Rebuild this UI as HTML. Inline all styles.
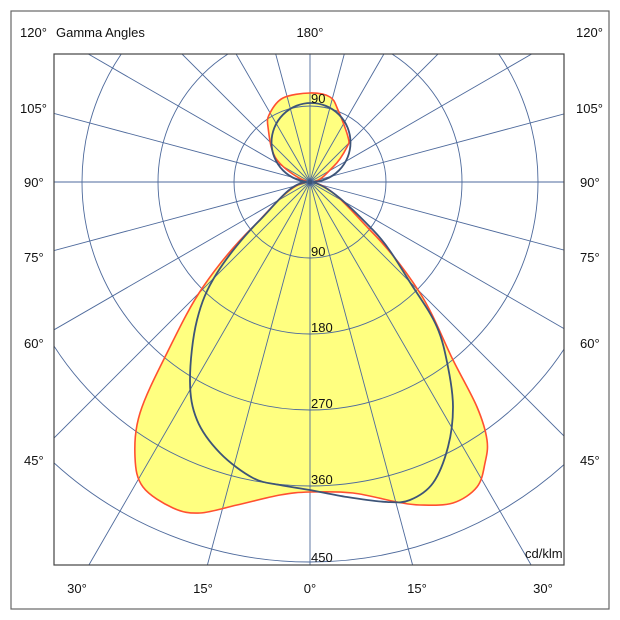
<!DOCTYPE html>
<html><head><meta charset="utf-8"><style>
html,body{margin:0;padding:0;background:#fff;width:620px;height:620px;overflow:hidden;}
svg{display:block;font-family:"Liberation Sans",Arial,sans-serif;}
</style></head><body>
<svg id="s" width="620" height="620" viewBox="0 0 620 620" xmlns="http://www.w3.org/2000/svg">
<rect x="11" y="11" width="598" height="598" fill="#fff" stroke="#666" stroke-width="1.2"/>
<defs><clipPath id="c"><rect x="54" y="54" width="510" height="511"/></clipPath></defs>
<g id="curves" clip-path="url(#c)"></g>
<g id="grid2" clip-path="url(#c)" fill="none" stroke="#4e6a9c" stroke-width="0.9"></g>
<rect x="54" y="54" width="510" height="511" fill="none" stroke="#444" stroke-width="1.2"/>
<g font-size="13" fill="#111">
<text x="20" y="37">120°</text>
<text x="56" y="37">Gamma Angles</text>
<text x="310" y="37" text-anchor="middle">180°</text>
<text x="576" y="37">120°</text>
<text x="20" y="113">105°</text><text x="576" y="113">105°</text>
<text x="24" y="187">90°</text><text x="580" y="187">90°</text>
<text x="24" y="262">75°</text><text x="580" y="262">75°</text>
<text x="24" y="348">60°</text><text x="580" y="348">60°</text>
<text x="24" y="465">45°</text><text x="580" y="465">45°</text>
<text x="77" y="593" text-anchor="middle">30°</text>
<text x="203" y="593" text-anchor="middle">15°</text>
<text x="310" y="593" text-anchor="middle">0°</text>
<text x="417" y="593" text-anchor="middle">15°</text>
<text x="543" y="593" text-anchor="middle">30°</text>
<text x="525" y="558">cd/klm</text>
<text x="311" y="103">90</text>
<text x="311" y="256">90</text>
<text x="311" y="332">180</text>
<text x="311" y="408">270</text>
<text x="311" y="484">360</text>
<text x="311" y="562">450</text>
</g>
</svg>
<script>
var NS="http://www.w3.org/2000/svg",cx=310,cy=182;
function el(p,t,a){var e=document.createElementNS(NS,t);for(var k in a)e.setAttribute(k,a[k]);p.appendChild(e);return e;}
function path(pts){var d="M"+pts[0][0]+","+pts[0][1];var n=pts.length;
for(var i=0;i<n-1;i++){var p0=pts[(i-1+n-1)%(n-1)],p1=pts[i],p2=pts[i+1],p3=pts[(i+2)%(n-1)];
if(i==0)p0=pts[n-2];
d+=" C"+(p1[0]+(p2[0]-p0[0])/6)+","+(p1[1]+(p2[1]-p0[1])/6)+" "+(p2[0]-(p3[0]-p1[0])/6)+","+(p2[1]-(p3[1]-p1[1])/6)+" "+p2[0]+","+p2[1];}
return d+"Z";}
var red=[[310,182],[253,227],[203,287],[167,353],[140,413],[135,457],[143,487],[173,508],[200,513],[237,505],[280,495],[310,492],[353,493],[397,502],[420,505],[453,503],[477,487],[485,463],[487,440],[477,407],[453,360],[420,293],[370,230],[310,182]];
var redTop=[[310,182],[277,160],[268,127],[270,113],[283,98],[310,93],[330,97],[338,110],[348,137],[347,147],[333,167],[310,182]];
var blue=[[310,182],[260,220],[217,273],[197,320],[190,380],[197,420],[220,453],[253,478],[280,485],[310,490],[347,497],[387,502],[410,500],[433,483],[448,447],[453,407],[448,367],[437,327],[413,287],[373,230],[310,182]];
var cv=document.getElementById('curves');
el(cv,'path',{d:path(red),fill:'#ffff80',stroke:'none'});
el(cv,'path',{d:path(redTop),fill:'#ffff80',stroke:'none'});
var g2=document.getElementById('grid2');
for(var i=1;i<=5;i++)el(g2,'circle',{cx:cx,cy:cy,r:76*i});
var L=54,R=564,T=54,B=565;
for(var a=0;a<360;a+=15){var r=a*Math.PI/180,dx=Math.sin(r),dy=Math.cos(r),t=1e9;
if(dx>1e-9)t=Math.min(t,(R-cx)/dx);if(dx<-1e-9)t=Math.min(t,(L-cx)/dx);
if(dy>1e-9)t=Math.min(t,(B-cy)/dy);if(dy<-1e-9)t=Math.min(t,(T-cy)/dy);
el(g2,'line',{x1:cx,y1:cy,x2:(cx+t*dx).toFixed(1),y2:(cy+t*dy).toFixed(1)});}
el(g2,'path',{d:path(red),stroke:'#ff5030','stroke-width':1.6});
el(g2,'path',{d:path(redTop),stroke:'#ff5030','stroke-width':1.6});
el(g2,'path',{d:path(blue),stroke:'#3d5478','stroke-width':1.8});
el(g2,'circle',{cx:311,cy:142.5,r:39.5,stroke:'#3d5478','stroke-width':1.8});
el(g2,'circle',{cx:cx,cy:cy,r:3,fill:'#3d5478'});
</script>
</body></html>
